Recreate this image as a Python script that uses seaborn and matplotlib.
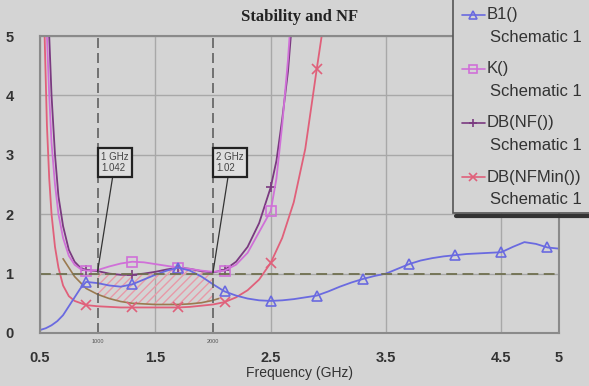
import numpy as np
import pandas as pd
import matplotlib
matplotlib.use("Agg")
import matplotlib.pyplot as plt
import seaborn as sns
from matplotlib.lines import Line2D
from matplotlib.patches import Rectangle

# --- data ---
freq_b1 = [0.5, 0.55, 0.6, 0.65, 0.7, 0.75, 0.8, 0.85, 0.9, 1.0, 1.1, 1.2, 1.3, 1.4, 1.5, 1.6, 1.7,
           1.8, 1.9, 2.0, 2.1, 2.2, 2.3, 2.4, 2.5, 2.6, 2.7, 2.8, 2.9, 3.0, 3.1, 3.2, 3.3, 3.4,
           3.5, 3.6, 3.7, 3.8, 3.9, 4.0, 4.1, 4.2, 4.3, 4.4, 4.5, 4.6, 4.7, 4.8, 4.9, 5.0]
b1 = [0.05, 0.08, 0.13, 0.2, 0.3, 0.45, 0.6, 0.75, 0.86, 0.84, 0.8, 0.78, 0.82, 0.9, 0.98, 1.05, 1.1,
      1.05, 0.95, 0.82, 0.7, 0.63, 0.58, 0.55, 0.54, 0.55, 0.57, 0.6, 0.63, 0.7, 0.78, 0.85, 0.91, 0.96,
      1.0, 1.08, 1.16, 1.22, 1.26, 1.29, 1.31, 1.33, 1.34, 1.35, 1.36, 1.45, 1.53, 1.5, 1.44, 1.42]

freq_k = [0.545, 0.56, 0.58, 0.6, 0.63, 0.66, 0.7, 0.75, 0.8, 0.85, 0.9, 1.0, 1.1, 1.2, 1.3, 1.4, 1.5,
          1.6, 1.7, 1.8, 1.9, 2.0, 2.1, 2.2, 2.3, 2.4, 2.5, 2.55, 2.6, 2.65, 2.7]
k = [6, 5, 4, 3.2, 2.5, 2.0, 1.6, 1.3, 1.15, 1.08, 1.05, 1.06, 1.12, 1.17, 1.2, 1.19, 1.16,
     1.13, 1.1, 1.08, 1.05, 1.03, 1.05, 1.15, 1.35, 1.7, 2.05, 2.6, 3.5, 4.6, 6]

freq_nf = [0.56, 0.58, 0.6, 0.63, 0.66, 0.7, 0.75, 0.8, 0.85, 0.9, 1.0, 1.1, 1.2, 1.3, 1.4, 1.5, 1.6,
           1.7, 1.8, 1.9, 2.0, 2.1, 2.2, 2.3, 2.4, 2.5, 2.55, 2.6, 2.65, 2.7]
nf = [6, 5, 4, 3.0, 2.3, 1.8, 1.4, 1.2, 1.1, 1.06, 1.042, 1.0, 0.98, 0.98, 1.0, 1.03, 1.07,
      1.1, 1.08, 1.04, 1.02, 1.06, 1.2, 1.45, 1.85, 2.45, 2.9, 3.6, 4.4, 5.6]

freq_nfmin = [0.53, 0.54, 0.56, 0.58, 0.6, 0.63, 0.66, 0.7, 0.75, 0.8, 0.9, 1.0, 1.1, 1.2, 1.3, 1.4,
              1.5, 1.6, 1.7, 1.8, 1.9, 2.0, 2.1, 2.2, 2.3, 2.4, 2.5, 2.6, 2.7, 2.8, 2.9, 2.95, 3.0]
nfmin = [6, 5, 3.5, 2.6, 2.0, 1.45, 1.1, 0.8, 0.62, 0.54, 0.47, 0.45, 0.44, 0.43, 0.43, 0.43,
         0.43, 0.43, 0.43, 0.44, 0.46, 0.48, 0.52, 0.6, 0.72, 0.9, 1.18, 1.6, 2.2, 3.1, 4.45, 5.1, 6]

# boundary of the hatched region
freq_region = [0.7, 0.8, 0.9, 1.0, 1.1, 1.2, 1.3, 1.4, 1.5, 1.6, 1.7, 1.8, 1.9, 2.0, 2.05]
region_low = [1.25, 0.95, 0.75, 0.65, 0.58, 0.53, 0.5, 0.49, 0.48, 0.48, 0.48, 0.49, 0.51, 0.55, 0.58]
region_high = [1.6, 1.15, 1.06, 1.04, 1.0, 0.98, 0.98, 1.0, 1.03, 1.07, 1.1, 1.08, 1.04, 1.02, 1.03]

marker_freqs = [0.9, 1.3, 1.7, 2.1, 2.5, 2.9, 3.3, 3.7, 4.1, 4.5, 4.9]
xticks = [0.5, 1.5, 2.5, 3.5, 4.5, 5]
yticks = [0, 1, 2, 3, 4, 5]
trace_names = ["B1()", "K()", "DB(NF())", "DB(NFMin())"]

bg = "#d4d4d4"
sns.set_theme(style="whitegrid", rc={"axes.facecolor": bg, "figure.facecolor": bg,
                                     "grid.color": "#a8a8a8", "axes.edgecolor": "#8a8a8a"})
plt.rcParams["font.family"] = ["Liberation Sans", "DejaVu Sans"]

W, H = 589, 386
fig = plt.figure(figsize=(W / 100, H / 100), dpi=100)
ax = fig.add_axes([40 / W, 1 - 333 / H, 519 / W, 297 / H])


def mark_idx(freqs):
    return [i for i, f in enumerate(freqs) if any(abs(f - m) < 1e-6 for m in marker_freqs)]


# hatched stable area
ax.fill_between(freq_region[3:14], region_low[3:14], region_high[3:14], facecolor="none",
                edgecolor="#e89aa8", hatch="////", linewidth=0)
sns.lineplot(x=freq_region, y=region_low, ax=ax, color="#9a7a50", lw=1.2, sort=False)

series = [
    (freq_b1, b1, "#6a6ae0", "^"),
    (freq_k, k, "#d070d8", "s"),
    (freq_nf, nf, "#7a3a80", "+"),
    (freq_nfmin, nfmin, "#e0607a", "x"),
]
for fx, fy, col, mk in series[::-1]:
    sns.lineplot(x=fx, y=fy, ax=ax, color=col, lw=1.3, sort=False, marker=mk,
                 markevery=mark_idx(fx), markersize=7, markerfacecolor="none",
                 markeredgecolor=col, markeredgewidth=1.2)

# reference lines
ax.axhline(1.0, color="#707050", lw=1.3, ls=(0, (6, 3)))
for xv in [1.0, 2.0]:
    ax.axvline(xv, color="#606060", lw=1.2, ls=(0, (6, 3)))
    ax.text(xv, -0.1, f"{int(xv * 1000)}", fontsize=4, ha="center", va="top", color="#555")

for xv, yv, txt in [(1.0, 1.042, "1 GHz\n1.042"), (2.0, 1.02, "2 GHz\n1.02")]:
    ax.annotate(txt, xy=(xv, yv), xytext=(xv + 0.03, 2.87), fontsize=7, color="#444",
                va="center", ha="left",
                bbox=dict(boxstyle="square,pad=0.35", fc="#dedede", ec="#222", lw=1.6),
                arrowprops=dict(arrowstyle="-", color="#333", lw=0.9, shrinkA=0, shrinkB=0))

ax.set_xlim(0.5, 5)
ax.set_ylim(0, 5)
ax.set_xticks(xticks)
ax.set_xticklabels(["0.5", "1.5", "2.5", "3.5", "4.5", "5"], fontsize=10.5, color="#333",
                   fontweight="bold")
ax.set_yticks(yticks)
ax.set_yticklabels([str(v) for v in yticks], fontsize=10.5, color="#333", fontweight="bold")
ax.tick_params(axis="x", length=0, pad=13)
ax.tick_params(axis="y", length=0, pad=19)
ax.set_xlabel("Frequency (GHz)", fontsize=10, color="#333", labelpad=1)
ax.set_ylabel("")
for sp in ax.spines.values():
    sp.set_linewidth(1.5)

fig.text(300 / W, 1 - 17 / H, "Stability and NF", ha="center", va="center", fontsize=12,
         fontweight="bold", family=["Liberation Serif", "DejaVu Serif"], color="#222")

# legend box drawn like the simulator's: handle beside the first line of each entry
fig.add_artist(Line2D([456 / W, 1.0], [1 - 216 / H] * 2, transform=fig.transFigure,
                      color="#333", lw=3))
fig.add_artist(Rectangle((453 / W, 1 - 213 / H), 0.3, 0.6, transform=fig.transFigure,
                         facecolor=bg, edgecolor="#555", lw=1.2))
for i, ((_, _, col, mk), name) in enumerate(zip(series, trace_names)):
    y1 = 1 - (15 + 54 * i) / H
    y2 = 1 - (37 + 54 * i) / H
    fig.add_artist(Line2D([462 / W, 485 / W], [y1, y1], transform=fig.transFigure, color=col,
                          lw=1.2))
    fig.add_artist(Line2D([473 / W], [y1], transform=fig.transFigure, color=col, marker=mk,
                          markerfacecolor="none", markersize=6, markeredgewidth=1.2))
    fig.text(487 / W, y1, name, fontsize=12, color="#333", va="center", ha="left")
    fig.text(490 / W, y2, "Schematic 1", fontsize=12, color="#333", va="center", ha="left")

fig.savefig("out.png", dpi=100, facecolor=bg)
